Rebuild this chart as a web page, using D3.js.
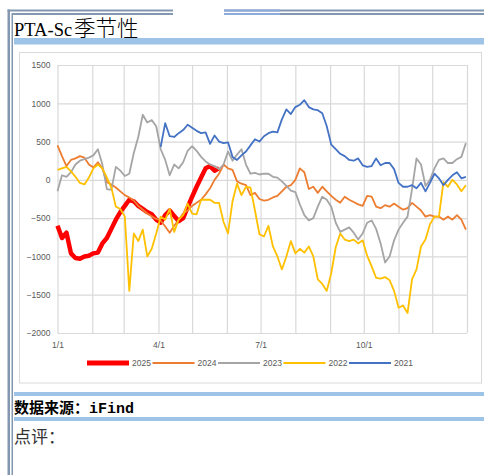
<!DOCTYPE html>
<html>
<head>
  <meta charset="utf-8">
  <title>PTA-Sc季节性</title>
  <script src="https://cdn.jsdelivr.net/npm/d3@7"></script>
  <style>
    body { margin: 0; background: #fff; }
    svg { display: block; }
  </style>
</head>
<body>
<script>
// dato (mm-dd), hver 4. dag
const dates = ["01-01","01-05","01-09","01-13","01-17","01-21","01-25","01-29","02-02","02-06",
  "02-10","02-14","02-18","02-22","02-26","03-02","03-06","03-10","03-14","03-18",
  "03-22","03-26","03-30","04-03","04-07","04-11","04-15","04-19","04-23","04-27",
  "05-01","05-05","05-09","05-13","05-17","05-21","05-25","05-29","06-02","06-06",
  "06-10","06-14","06-18","06-22","06-26","06-30","07-04","07-08","07-12","07-16",
  "07-20","07-24","07-28","08-01","08-05","08-09","08-13","08-17","08-21","08-25",
  "08-29","09-02","09-06","09-10","09-14","09-18","09-22","09-26","09-30","10-04",
  "10-08","10-12","10-16","10-20","10-24","10-28","11-01","11-05","11-09","11-13",
  "11-17","11-21","11-25","11-29","12-03","12-07","12-11","12-15","12-19","12-23",
  "12-27","12-31"];

const s2025 = [-600,-760,-690,-960,-1020,-1030,-1000,-990,-960,-950,
  -830,-760,-640,-520,-420,-340,-260,-280,-340,-380,
  -420,-450,-520,-560,-460,-400,-470,-540,-500,-360,
  -220,-90,30,150,180,120,150];

const s2024 = [450,310,180,260,280,310,290,200,160,230,
  150,-30,-60,-100,-150,-200,-230,-270,-340,-390,
  -440,-475,-510,-530,-610,-690,-600,-520,-440,-400,
  -340,-300,-260,-190,-110,0,80,200,150,130,
  -20,-50,-70,-200,-170,-250,-270,-260,-230,-210,
  -150,-90,-70,0,150,100,-120,-90,-170,-90,
  -150,-210,-260,-300,-220,-260,-290,-320,-340,-210,
  -220,-350,-370,-330,-350,-310,-350,-390,-370,-300,
  -350,-400,-480,-460,-480,-480,-520,-480,-520,-460,
  -520,-650];

const s2023 = [-150,60,40,100,200,250,270,290,320,400,
  200,-120,-130,170,120,50,80,350,560,850,
  750,780,700,400,260,60,200,150,230,380,
  440,380,300,240,200,180,140,200,370,250,
  330,400,200,80,90,70,80,80,40,30,
  -20,-80,-140,-160,-320,-460,-530,-500,-350,-220,
  -260,-350,-560,-680,-650,-620,-690,-780,-700,-560,
  -530,-640,-830,-1080,-1000,-790,-650,-560,-480,-120,
  280,200,-80,0,150,260,280,220,220,270,
  300,480];

const s2022 = [130,150,170,110,40,-40,-60,30,150,200,
  150,30,-100,-350,-380,-480,-1450,-700,-800,-650,
  -1000,-900,-700,-480,-520,-380,-680,-520,-460,-310,
  -440,-450,-260,-260,-260,-300,-300,-550,-700,-280,
  -50,-200,-90,-100,-400,-710,-740,-600,-870,-1000,
  -1170,-1000,-800,-960,-900,-950,-870,-1000,-1300,-1360,
  -1450,-1220,-880,-700,-780,-800,-780,-830,-790,-990,
  -1130,-1280,-1290,-1270,-1310,-1450,-1670,-1640,-1740,-1300,
  -1170,-870,-780,-580,-480,-480,-30,-90,0,-60,
  -150,-70];

const s2021 = [null,null,null,null,null,null,null,null,null,null,
  null,null,null,null,null,null,null,null,null,null,
  null,null,null,430,740,570,560,610,650,720,
  680,640,610,620,470,580,500,480,490,300,
  260,320,370,450,530,500,570,610,630,620,
  790,920,860,950,980,1040,950,920,910,870,
  700,460,400,340,310,260,250,280,190,170,
  180,280,190,220,220,140,-40,-90,-90,-70,
  -110,-40,-150,-40,80,20,-70,0,60,100,
  20,40];

const seriesNames = ["2025", "2024", "2023", "2022", "2021"];
const seriesValues = [s2025, s2024, s2023, s2022, s2021];
const seriesColors = ["#ff0000", "#ed7d31", "#a5a5a5", "#ffc000", "#4472c4"];
const yTicks = [-2000, -1500, -1000, -500, 0, 500, 1000, 1500];
const quarterLabels = { 0: "1/1", 3: "4/1", 6: "7/1", 9: "10/1" };

const W = 484, H = 475;
const svg = d3.select("body").append("svg")
  .attr("width", W)
  .attr("height", H);

// ramme omkring (dokument-stil)
const frameGray = "#8497b0";
svg.append("rect").attr("x", 7.5).attr("y", 9.5).attr("width", 165.5).attr("height", 2).attr("fill", frameGray);
svg.append("rect").attr("x", 12).attr("y", 13).attr("width", 161).attr("height", 2).attr("fill", frameGray);
svg.append("rect").attr("x", 224).attr("y", 9.5).attr("width", 260).attr("height", 2).attr("fill", frameGray);
svg.append("rect").attr("x", 224).attr("y", 13).attr("width", 260).attr("height", 2).attr("fill", frameGray);
svg.append("rect").attr("x", 224).attr("y", 9.5).attr("width", 56).attr("height", 2).attr("fill", "#8eaadb");
svg.append("rect").attr("x", 224).attr("y", 13).attr("width", 56).attr("height", 2).attr("fill", "#8eaadb");
svg.append("rect").attr("x", 7.5).attr("y", 9.5).attr("width", 2.5).attr("height", H - 9.5).attr("fill", frameGray);
svg.append("rect").attr("x", 11.5).attr("y", 13).attr("width", 1.5).attr("height", H - 13).attr("fill", frameGray);

// titel
const title = svg.append("text").attr("x", 14).attr("y", 36).attr("fill", "#000");
title.append("tspan").attr("font-family", "Liberation Serif, serif").attr("font-size", 18.5).text("PTA-Sc");
title.append("tspan").attr("x", 74).attr("font-family", "Noto Sans CJK SC").attr("font-size", 21.5)
  .attr("font-weight", 300).text("季节性");

svg.append("rect").attr("x", 14).attr("y", 38).attr("width", W - 14).attr("height", 6.5).attr("fill", "#9dc3e6");

// diagramboks
svg.append("rect")
  .attr("x", 19.5).attr("y", 52.5)
  .attr("width", 462).attr("height", 330.5)
  .attr("fill", "#fff")
  .attr("stroke", "#d9d9d9");

// skalaer
const parse = d3.timeParse("%Y-%m-%d");
const xScale = d3.scaleTime()
  .domain([new Date(2021, 0, 1), new Date(2022, 0, 1)])
  .range([57.5, 467]);
const yScale = d3.scaleLinear()
  .domain([-2000, 1500])
  .range([333, 65]);

// Y-akse + vandrette gitterlinjer
const yAxis = d3.axisLeft(yScale)
  .tickValues(yTicks)
  .tickSize(-(467 - 57.5))
  .tickPadding(7)
  .tickFormat(d3.format("d"));
const gy = svg.append("g")
  .attr("transform", "translate(57.5,0)")
  .call(yAxis);

// X-akse + lodrette gitterlinjer (hver maaned)
const xAxis = d3.axisBottom(xScale)
  .ticks(d3.timeMonth.every(1))
  .tickSize(-(333 - 65))
  .tickPadding(9)
  .tickFormat(function (d) {
    return d.getFullYear() === 2021 && quarterLabels[d.getMonth()] ? quarterLabels[d.getMonth()] : "";
  });
const gx = svg.append("g")
  .attr("transform", "translate(0,333)")
  .call(xAxis);

[gx, gy].forEach(function (g) {
  g.select(".domain").remove();
  g.selectAll(".tick line").attr("stroke", "#d9d9d9").attr("stroke-width", 1.2);
  g.selectAll(".tick text")
    .attr("fill", "#595959")
    .attr("font-family", "Liberation Sans, Arial, sans-serif")
    .attr("font-size", 8.5);
});

// linjer
const line = d3.line()
  .defined(function (d) { return d.v !== null && d.v !== undefined; })
  .x(function (d) { return xScale(d.date); })
  .y(function (d) { return yScale(d.v); });

seriesValues.forEach(function (vals, k) {
  const pts = dates.map(function (d, i) {
    return { date: parse("2021-" + d), v: i < vals.length ? vals[i] : null };
  });
  svg.append("path")
    .datum(pts)
    .attr("fill", "none")
    .attr("stroke", seriesColors[k])
    .attr("stroke-width", k === 0 ? 4.5 : 1.8)
    .attr("stroke-linejoin", "round")
    .attr("d", line);
});

// forklaring
const legend = svg.append("g").attr("transform", "translate(87,363)");
seriesNames.forEach(function (name, k) {
  const g = legend.append("g").attr("transform", "translate(" + (k * 65.5) + ",0)");
  g.append("line")
    .attr("x1", 0).attr("x2", 42)
    .attr("stroke", seriesColors[k])
    .attr("stroke-width", k === 0 ? 5 : 2);
  g.append("text")
    .attr("x", 45).attr("dy", "0.35em")
    .attr("fill", "#595959")
    .attr("font-family", "Liberation Sans, Arial, sans-serif")
    .attr("font-size", 8.5)
    .text(name);
});

// kilde og kommentar
svg.append("rect").attr("x", 14).attr("y", 392).attr("width", W - 14).attr("height", 4).attr("fill", "#9dc3e6");
const src = svg.append("text").attr("x", 14).attr("y", 413).attr("font-weight", "bold").attr("font-size", 15).attr("fill", "#000");
src.append("tspan").attr("font-family", "Noto Sans CJK SC").text("数据来源：");
src.append("tspan").attr("x", 89).attr("font-family", "Liberation Mono, monospace").text("iFind");
svg.append("rect").attr("x", 14).attr("y", 417).attr("width", W - 14).attr("height", 4).attr("fill", "#9dc3e6");
svg.append("text")
  .attr("x", 14).attr("y", 443)
  .attr("font-family", "Noto Sans CJK SC")
  .attr("font-size", 17)
  .attr("fill", "#333")
  .text("点评：");
</script>
</body>
</html>
